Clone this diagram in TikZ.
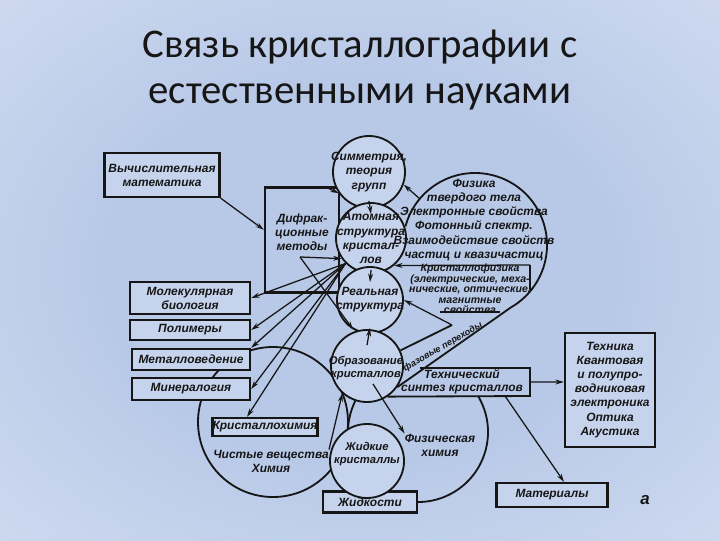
\documentclass[tikz,border=0pt]{standalone}
\usepackage{fontspec}
\setmainfont{Liberation Sans}
\newfontfamily\ttlfont{Carlito}
\usetikzlibrary{arrows.meta}

\definecolor{ink}{HTML}{161616}
\definecolor{paper}{HTML}{C6D3EC}
\definecolor{bgin}{HTML}{B8C9E8}
\definecolor{bgout}{HTML}{E0E6F4}
\pgfdeclareradialshading{slide}{\pgfpoint{0bp}{0bp}}{color(0bp)=(bgin); color(18bp)=(bgin); color(50bp)=(bgout); color(80bp)=(bgout)}
\pgfdeclarelayer{bg}
\pgfdeclarelayer{back}
\pgfsetlayers{bg,back,main}

\tikzset{
  hand/.style={font=\bfseries\itshape\fontsize{8.5}{10}\selectfont, text=ink},
  handsmall/.style={font=\bfseries\itshape\fontsize{7.5}{7.5}\selectfont, text=ink},
  box/.style={draw=ink, line width=1.6pt, fill=paper, hand, align=center, inner sep=0pt},
  bubble/.style={circle, draw=ink, line width=1.3pt, fill=paper, inner sep=0pt},
  lbl/.style={hand, align=center, inner sep=0pt},
  rim/.style={draw=ink, line width=1.3pt},
  arr/.style={draw=ink, line width=0.9pt, -{Stealth[length=6pt,width=3.5pt]}},
}

\begin{document}
\begin{tikzpicture}[x=0.025cm, y=-0.025cm]
\useasboundingbox (0,0) rectangle (720,540);
\begin{pgfonlayer}{bg}
  \shade[shading=slide] (0,0) rectangle (720,540);
\end{pgfonlayer}

% title
\node[font=\ttlfont\fontsize{29}{34}\selectfont, text=ink] (title1) at (360,47) {Связь кристаллографии с};
\node[font=\ttlfont\fontsize{29}{34}\selectfont, text=ink] (title2) at (360,97) {естественными науками};

% boxes
\node[box, minimum width=2.875cm, minimum height=1.1cm] (vych) at (162,175) {Вычислительная\\математика};
\node[box, fill=none, minimum width=1.85cm, minimum height=2.625cm] (difr) at (302,240) {};
\node[box, minimum width=3cm, minimum height=0.8cm] (molbio) at (190,298) {Молекулярная\\биология};
\node[box, minimum width=3cm, minimum height=0.5cm] (polim) at (190,330) {Полимеры};
\node[box, minimum width=2.95cm, minimum height=0.525cm] (metal) at (191,359.5) {Металловедение};
\node[box, minimum width=2.95cm, minimum height=0.55cm] (miner) at (191,389) {Минералогия};
\node[box, minimum width=2.625cm, minimum height=0.45cm] (khim) at (265,427) {Кристаллохимия};
\node[box, minimum width=2.35cm, minimum height=0.525cm] (zhid) at (370,502) {Жидкости};
\node[box, minimum width=2.25cm, minimum height=2.85cm] (tehnika) at (610,390) {Техника\\Квантовая\\и полупро-\\водниковая\\электроника\\Оптика\\Акустика};
\node[box, minimum width=2.775cm, minimum height=0.6cm] (mater) at (552,495) {Материалы};

% circles
\node[bubble, minimum size=1.8cm] (sym) at (369,172) {};
\node[bubble, minimum size=1.75cm] (atom) at (371,238) {};
\node[bubble, minimum size=1.65cm] (real) at (370,300) {};
\node[bubble, minimum size=1.8cm] (obraz) at (367,366) {};
\node[bubble, minimum size=1.85cm] (liq) at (367,461) {};

% big outlines
\begin{pgfonlayer}{back}
  \draw[rim] (273,422) circle[radius=75];
  \draw[rim] (418,432) ++(-31:70) arc[start angle=-31, end angle=235, radius=70];
  \draw[rim] (475,245) ++(-165:72) arc[start angle=-165, end angle=60, radius=72] coordinate (fizB) -- (obraz.-35);
\end{pgfonlayer}

% texts
\node[lbl] (difrT) at (302,232) {Дифрак-\\ционные\\методы};
\node[lbl] (symT) at (sym) {Симметрия,\\теория\\групп};
\node[lbl] (atomT) at (atom) {Атомная\\структура\\кристал-\\лов};
\node[lbl] (realT) at (real) {Реальная\\структура};
\node[lbl, font=\bfseries\itshape\fontsize{8}{9.5}\selectfont] (obrazT) at (366,368) {Образование\\кристаллов};
\node[lbl, font=\bfseries\itshape\fontsize{8}{9}\selectfont] (liqT) at (367,454) {Жидкие\\кристаллы};
\node[lbl] (fiz) at (474,220) {Физика\\твердого тела\\Электронные свойства\\Фотонный спектр.\\Взаимодействие свойств\\частиц и квазичастиц};
\node[lbl, handsmall] (krfiz) at (470,289) {Кристаллофизика\\(электрические, меха-\\нические, оптические,\\магнитные\\свойства};
\node[lbl, font=\bfseries\itshape\fontsize{6.5}{6.5}\selectfont, rotate=30] (faz) at (443,347) {фазовые переходы};
\node[lbl, font=\bfseries\itshape\fontsize{8.5}{9}\selectfont] (tekh) at (462,382) {Технический\\синтез кристаллов};
\node[lbl] (chist) at (271,461) {Чистые вещества\\Химия};
\node[lbl] (fizkhim) at (440,445) {Физическая\\химия};
\node[lbl, font=\bfseries\itshape\fontsize{12}{12}\selectfont] (fig) at (645,500) {а};

% crystal physics box, notch and synthesis box
\coordinate (kfTR) at (530,265);
\coordinate (kfBR) at (530,290);
\coordinate (kfL) at (440,312);
\coordinate (kfR) at (500,312);
\coordinate (notch) at (452,325);
\coordinate (tkTL) at (420,368);
\coordinate (tkTR) at (530,368);
\coordinate (tkBR) at (530,396);
\coordinate (tkR) at (530,382);
\coordinate (tkB) at (505,396);
\coordinate (difrO) at (300,257);
\coordinate (fizA) at (420,199);

\draw[rim] (kfBR) -- (kfTR);
\draw[arr] (kfTR) -- (atom.-50);
\draw[rim] (kfL) -- (kfR);
\draw[rim] (obraz.25) -- (notch);
\draw[arr] (notch) -- (real.east);
\draw[rim] (tkTL) -- (tkTR) -- (tkBR) -- (obraz.-56);

% arrows
\draw[arr] (vych.south east) -- (difr.165);
\draw[arr] ([xshift=-0.4cm]difr.north east) -- (sym.215);
\draw[arr] (fizA) -- (sym.-20);
\draw[arr] ([yshift=0.2cm]sym.south) -- ([yshift=-0.3cm]atom.north);
\draw[arr] ([yshift=0.1cm]atom.south) -- ([yshift=-0.4cm]real.north);
\draw[arr] ([yshift=-0.4cm]obraz.north) -- ([yshift=0.15cm]real.south);
\draw[arr] (difrO) -- (atom.215);
\draw[arr] (difrO) -- (real.-120);
\foreach \t in {molbio.east, polim.east, metal.north east, miner.east}
  \draw[arr] (atom.225) -- (\t);
\draw[arr] (atom.225) -- ([xshift=-0.45cm]khim.north);
\draw[arr] ([xshift=0.15cm,yshift=-0.45cm]obraz.center) -- (fizkhim.north west);
\draw[arr] (chist.north east) -- (obraz.-132);
\draw[arr] (tkR) -- ([yshift=0.2cm]tehnika.west);
\draw[arr] (tkB) -- ([xshift=0.3cm]mater.north);
\end{tikzpicture}
\end{document}
